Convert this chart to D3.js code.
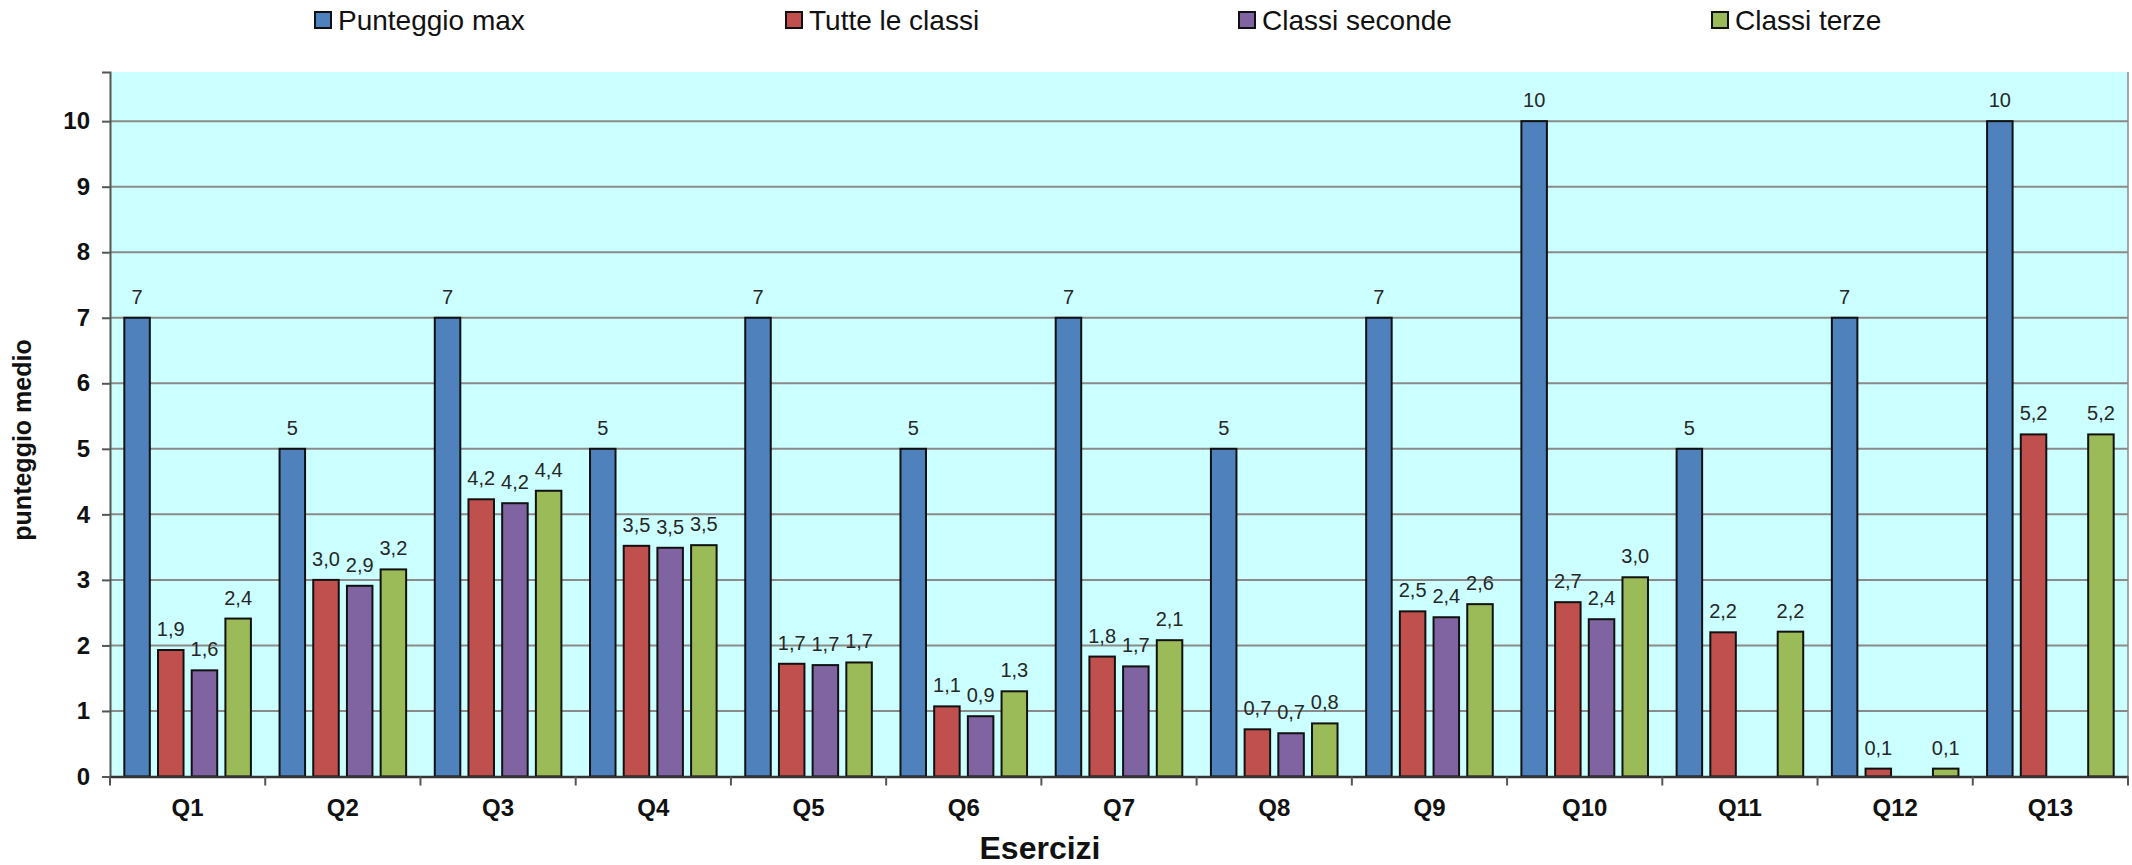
<!DOCTYPE html>
<html>
<head>
<meta charset="utf-8">
<script src="https://cdn.jsdelivr.net/npm/d3@7"></script>
<style>
  html, body { margin: 0; padding: 0; background: #ffffff; }
  svg { display: block; font-family: "Liberation Sans", Arial, sans-serif; }
</style>
</head>
<body>
<svg id="chart" width="2132" height="865"></svg>
<script>
// ---- data ----
const categories = ["Q1","Q2","Q3","Q4","Q5","Q6","Q7","Q8","Q9","Q10","Q11","Q12","Q13"];
const seriesNames = ["Punteggio max","Tutte le classi","Classi seconde","Classi terze"];
const punteggioMax   = [7, 5, 7, 5, 7, 5, 7, 5, 7, 10, 5, 7, 10];
const tutteLeClassi  = [1.93, 3.00, 4.23, 3.52, 1.72, 1.07, 1.83, 0.72, 2.52, 2.66, 2.20, 0.12, 5.22];
const classiSeconde  = [1.62, 2.91, 4.17, 3.49, 1.70, 0.92, 1.68, 0.66, 2.43, 2.40, null, null, null];
const classiTerze    = [2.41, 3.16, 4.36, 3.53, 1.74, 1.30, 2.08, 0.81, 2.63, 3.04, 2.21, 0.12, 5.22];
const yTicks = [0,1,2,3,4,5,6,7,8,9,10];
const colors = ["#4F81BD","#C0504D","#8064A2","#9BBB59"];

const seriesValues = [punteggioMax, tutteLeClassi, classiSeconde, classiTerze];

// ---- layout ----
const plot = { left: 110, right: 2128, top: 72, bottom: 776.5 };
const svg = d3.select("#chart");

const x0 = d3.scaleBand().domain(categories).range([plot.left, plot.right]).paddingInner(0).paddingOuter(0);
const x1 = d3.scaleBand().domain(seriesNames).range([0, x0.bandwidth()]).paddingInner(0.243).paddingOuter(0.425);
const y = d3.scaleLinear().domain([0, 10.75]).range([plot.bottom, plot.top]);

// plot background
svg.append("rect")
  .attr("x", plot.left).attr("y", plot.top)
  .attr("width", plot.right - plot.left).attr("height", plot.bottom - plot.top)
  .attr("fill", "#CCFFFF");

// gridlines
svg.append("g").selectAll("line").data(yTicks.filter(d => d > 0)).join("line")
  .attr("x1", plot.left).attr("x2", plot.right)
  .attr("y1", d => y(d)).attr("y2", d => y(d))
  .attr("stroke", "#8a8a8a").attr("stroke-width", 2);

// right border
svg.append("line")
  .attr("x1", plot.right).attr("x2", plot.right)
  .attr("y1", plot.top).attr("y2", plot.bottom)
  .attr("stroke", "#8a8a8a").attr("stroke-width", 1.5);

// bars
const fmt = v => v.toFixed(1).replace(".", ",");
seriesNames.forEach((name, si) => {
  const vals = seriesValues[si];
  const data = categories.map((c, i) => ({ c, v: vals[i] })).filter(d => d.v !== null);
  const g = svg.append("g");
  g.selectAll("rect").data(data).join("rect")
    .attr("x", d => x0(d.c) + x1(name))
    .attr("y", d => y(d.v))
    .attr("width", x1.bandwidth())
    .attr("height", d => y(0) - y(d.v))
    .attr("fill", colors[si])
    .attr("stroke", "#111")
    .attr("stroke-width", 2);
  g.selectAll("text").data(data).join("text")
    .attr("x", d => x0(d.c) + x1(name) + x1.bandwidth() / 2)
    .attr("y", d => y(d.v) - 14)
    .attr("text-anchor", "middle")
    .attr("font-size", 20)
    .attr("fill", "#262626")
    .text(d => si === 0 ? String(d.v) : fmt(d.v));
});

// y axis
const yAxis = d3.axisLeft(y).tickValues(yTicks).tickSize(8).tickPadding(12).tickFormat(d3.format("d"));
const yg = svg.append("g").attr("transform", `translate(${plot.left},0)`).call(yAxis);
yg.select(".domain").attr("stroke", "#555").attr("stroke-width", 2);
yg.selectAll(".tick line").attr("stroke", "#555").attr("stroke-width", 2);
yg.selectAll(".tick text").attr("font-size", 24).attr("font-weight", "bold")
  .attr("font-family", "Liberation Sans, Arial, sans-serif").attr("fill", "#111");

// x axis
const xAxis = d3.axisBottom(x0).tickSize(0).tickPadding(22);
const xg = svg.append("g").attr("transform", `translate(0,${plot.bottom})`).call(xAxis);
xg.select(".domain").attr("stroke", "#333").attr("stroke-width", 2.5);
xg.selectAll(".tick text").attr("font-size", 24).attr("font-weight", "bold")
  .attr("font-family", "Liberation Sans, Arial, sans-serif").attr("fill", "#111");
// category boundary ticks
const boundaries = categories.map(c => x0(c)).concat([plot.right]);
svg.append("g").selectAll("line").data(boundaries).join("line")
  .attr("x1", d => d).attr("x2", d => d)
  .attr("y1", plot.bottom).attr("y2", plot.bottom + 9)
  .attr("stroke", "#555").attr("stroke-width", 2);

// axis titles
svg.append("text")
  .attr("x", 1040).attr("y", 848).attr("dy", "0.35em")
  .attr("text-anchor", "middle").attr("font-size", 32).attr("font-weight", "bold").attr("fill", "#111")
  .text("Esercizi");
svg.append("text")
  .attr("transform", "translate(22,440) rotate(-90)")
  .attr("dy", "0.35em")
  .attr("text-anchor", "middle").attr("font-size", 25).attr("font-weight", "bold").attr("fill", "#111")
  .text("punteggio medio");

// legend
const legendX = [315, 786, 1239, 1712];
const lg = svg.append("g");
seriesNames.forEach((name, i) => {
  lg.append("rect")
    .attr("x", legendX[i]).attr("y", 12).attr("width", 16).attr("height", 16)
    .attr("fill", colors[i]).attr("stroke", "#111").attr("stroke-width", 2);
  lg.append("text")
    .attr("x", legendX[i] + 23).attr("y", 20).attr("dy", "0.35em")
    .attr("font-size", 28).attr("fill", "#111")
    .text(name);
});
</script>
</body>
</html>
